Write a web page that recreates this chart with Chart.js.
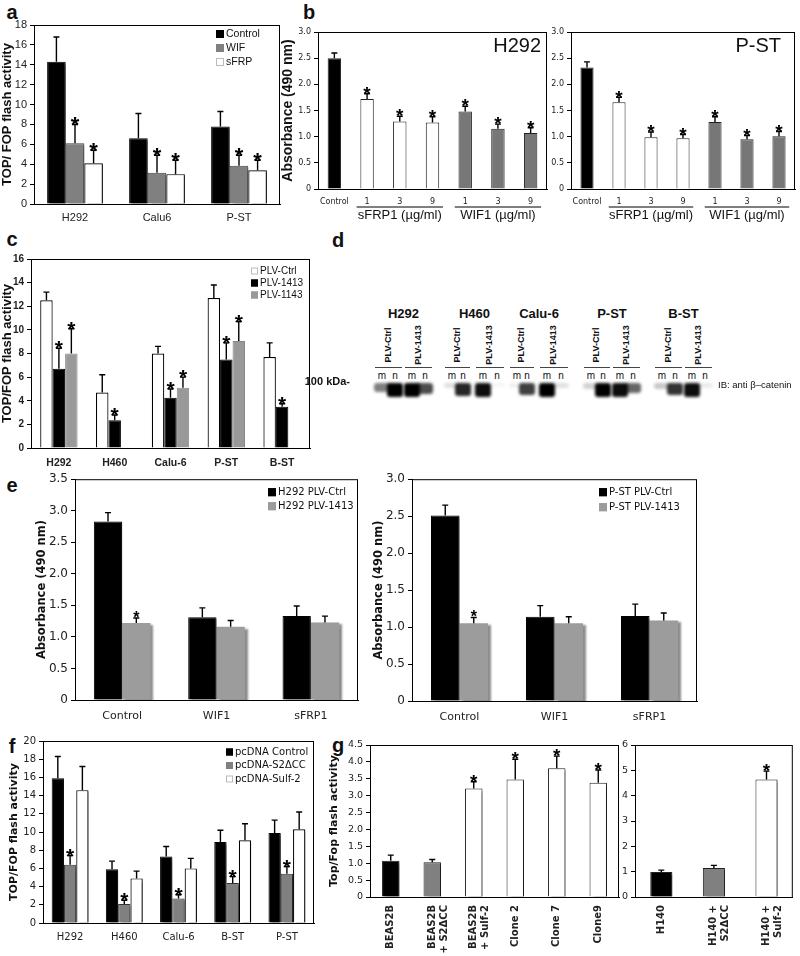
<!DOCTYPE html>
<html>
<head>
<meta charset="utf-8">
<script src="https://cdn.jsdelivr.net/npm/chart.js@4.4.0/dist/chart.umd.min.js"></script>
<style>
  body { margin: 0; background: #fff; }
  #page { position: relative; width: 800px; height: 956px; overflow: hidden; font-family: 'Liberation Sans', Arial, sans-serif; color: #111; }
  .tag { position: absolute; font-weight: bold; font-size: 20px; transform: translate(-50%, -50%); }
  .t { position: absolute; white-space: nowrap; }
  .band { position: absolute; border-radius: 3px; filter: blur(1.4px); }
</style>
</head>
<body>
<div id="page">
  <div class="tag" style="left:12px;top:12px">a</div>
  <div class="tag" style="left:309px;top:12px">b</div>
  <div class="tag" style="left:12px;top:239px">c</div>
  <div class="tag" style="left:338px;top:240px">d</div>
  <div class="tag" style="left:12px;top:485px">e</div>
  <div class="tag" style="left:12px;top:746px">f</div>
  <div class="tag" style="left:338px;top:745px">g</div>
</div>
<script>
// ---- panel a ----
const aLabels = ['H292', 'Calu6', 'P-ST'];
const aControl = [14.3, 6.6, 7.8];
const aControlErr = [2.5, 2.5, 1.5];
const aWif = [6.1, 3.15, 3.85];
const aWifErr = [1.9, 1.75, 1.05];
const aSfrp = [4.1, 3.0, 3.4];
const aSfrpErr = [1.3, 1.4, 1.0];
const aStars = [1, 1, 1];

// ---- panel b ----
const bLabels = ['Control', '1', '3', '9', '1', '3', '9'];
const bGroups = ['sFRP1 (µg/ml)', 'WIF1 (µg/ml)'];
const bH292 = [2.50, 1.72, 1.29, 1.27, 1.48, 1.15, 1.07];
const bH292Err = [0.10, 0.10, 0.10, 0.11, 0.10, 0.09, 0.10];
const bPst = [2.32, 1.66, 0.99, 0.97, 1.28, 0.95, 1.01];
const bPstErr = [0.11, 0.09, 0.10, 0.07, 0.10, 0.07, 0.09];
const bStars = [0, 1, 1, 1, 1, 1, 1];

// ---- panel c ----
const cLabels = ['H292', 'H460', 'Calu-6', 'P-ST', 'B-ST'];
const cCtrl = [12.5, 4.7, 8.0, 12.7, 7.7];
const cCtrlErr = [0.7, 1.5, 0.6, 1.1, 1.2];
const c1413 = [6.7, 2.35, 4.25, 7.5, 3.5];
const c1413Err = [1.75, 0.45, 0.75, 1.4, 0.25];
const c1143 = [8.0, null, 5.1, 9.05, null];
const c1143Err = [2.1, null, 0.9, 1.65, null];
const cStars = [1, 1, 1, 1, 1];

// ---- panel d (blot) ----
const dLines = ['H292', 'H460', 'Calu-6', 'P-ST', 'B-ST'];
const dLanes = [[382, 395, 412, 425], [452, 463, 483, 497], [517, 527, 547, 561], [591, 603, 620, 633], [662, 675, 692, 705]];
const dBands = [[0.5, 1, 1, 0.7], [0.12, 0.85, 0.95, 0.04], [0.06, 0.75, 1, 0.12], [0.18, 1, 0.95, 0.6], [0.22, 0.8, 0.95, 0.08]];

// ---- panel e ----
const eLabels = ['Control', 'WIF1', 'sFRP1'];
const eH292Ctrl = [2.83, 1.31, 1.33];
const eH292CtrlErr = [0.14, 0.15, 0.16];
const eH2921413 = [1.22, 1.16, 1.23];
const eH2921413Err = [0.08, 0.10, 0.10];
const ePstCtrl = [2.51, 1.14, 1.15];
const ePstCtrlErr = [0.14, 0.15, 0.16];
const ePst1413 = [1.05, 1.05, 1.09];
const ePst1413Err = [0.08, 0.09, 0.10];
const eStars = [1, 0, 0];

// ---- panel f ----
const fLabels = ['H292', 'H460', 'Calu-6', 'B-ST', 'P-ST'];
const fControl = [15.9, 5.9, 7.3, 8.9, 9.9];
const fControlErr = [2.4, 0.9, 1.1, 1.3, 1.4];
const fS2 = [6.4, 2.1, 2.7, 4.4, 5.4];
const fS2Err = [1.0, 0.4, 0.4, 0.7, 0.8];
const fSulf = [14.6, 4.9, 6.0, 9.1, 10.3];
const fSulfErr = [2.6, 0.8, 1.1, 1.8, 1.9];
const fStars = [1, 1, 1, 1, 1];

// ---- panel g ----
const gLabels = [['BEAS2B'], ['BEAS2B', '+ S2ΔCC'], ['BEAS2B', '+ Sulf-2'], ['Clone 2'], ['Clone 7'], ['Clone9']];
const gBeas = [1.07, 1.03, 3.21, 3.48, 3.81, 3.38];
const gBeasErr = [0.17, 0.08, 0.20, 0.60, 0.36, 0.38];
const gBeasStars = [0, 0, 1, 1, 1, 1];
const hLabels = [['H140'], ['H140 +', 'S2ΔCC'], ['H140 +', 'Sulf-2']];
const gH140 = [0.99, 1.14, 4.64];
const gH140Err = [0.07, 0.11, 0.33];
const gH140Stars = [0, 0, 1];

const A = 'Liberation Sans';
const V = 'DejaVu Sans';
const page = document.getElementById('page');
Chart.defaults.font.family = A;

const figPlugin = {
  id: 'fig',
  beforeDatasetsDraw(chart, args, o) {
    const ctx = chart.ctx;
    ctx.save();
    if (o.shadow) {
      ctx.shadowColor = 'rgba(0,0,0,0.45)';
      ctx.shadowOffsetX = 3;
      ctx.shadowOffsetY = 2;
      ctx.shadowBlur = 2;
    }
  },
  afterDatasetsDraw(chart, args, o) {
    const ctx = chart.ctx;
    ctx.restore();
    const area = chart.chartArea, ys = chart.scales.y, xs = chart.scales.x;
    const px = v => area.left + (v - o.box.l);
    const py = v => area.top + (v - o.box.t);
    ctx.save();
    ctx.strokeStyle = '#000';
    ctx.lineWidth = 1;
    ctx.strokeRect(area.left + 0.5, area.top + 0.5, area.right - area.left - 1, area.bottom - area.top);

    chart.data.datasets.forEach((ds, i) => {
      const meta = chart.getDatasetMeta(i);
      meta.data.forEach((bar, j) => {
        const v = ds.data[j];
        if (v == null) return;
        let top = bar.y;
        if (ds.err && ds.err[j]) {
          top = ys.getPixelForValue(v + ds.err[j]);
          ctx.lineWidth = 1.4;
          ctx.beginPath();
          ctx.moveTo(bar.x, bar.y);
          ctx.lineTo(bar.x, top);
          ctx.moveTo(bar.x - 3, top);
          ctx.lineTo(bar.x + 3, top);
          ctx.stroke();
        }
        if (ds.stars && ds.stars[j]) {
          const s = o.star || 20;
          ctx.fillStyle = '#000';
          ctx.font = `bold ${s}px ${A}`;
          ctx.textAlign = 'center';
          ctx.textBaseline = 'alphabetic';
          ctx.fillText('*', bar.x, top - 2 + s * 0.43);
        }
      });
    });

    if (o.legend) {
      const L = o.legend;
      ctx.font = `${L.size}px ${L.family}`;
      ctx.textBaseline = 'middle';
      ctx.textAlign = 'left';
      chart.data.datasets.forEach((ds, i) => {
        const x = px(L.x), y = py(L.y + i * L.dy);
        ctx.fillStyle = ds.backgroundColor;
        ctx.fillRect(x, y - L.box / 2, L.box, L.box);
        ctx.strokeStyle = ds.backgroundColor === '#fff' ? '#bbb' : ds.backgroundColor;
        ctx.lineWidth = 1;
        ctx.strokeRect(x + 0.5, y - L.box / 2 + 0.5, L.box - 1, L.box - 1);
        ctx.fillStyle = '#111';
        ctx.fillText(ds.label, x + L.box + 2, y);
      });
    }

    if (o.title) {
      ctx.fillStyle = '#111';
      ctx.font = o.title.font;
      ctx.textAlign = 'right';
      ctx.textBaseline = 'middle';
      ctx.fillText(o.title.text, px(o.title.x), py(o.title.y));
    }

    if (o.groups) {
      const half = (xs.getPixelForValue(1) - xs.getPixelForValue(0)) * 0.32;
      o.groups.forEach(g => {
        const x0 = xs.getPixelForValue(g.from) - half;
        const x1 = xs.getPixelForValue(g.to) + half;
        const ly = area.bottom + (o.lineY - o.box.b);
        ctx.strokeStyle = '#000';
        ctx.lineWidth = 1.2;
        ctx.beginPath();
        ctx.moveTo(x0, ly);
        ctx.lineTo(x1, ly);
        ctx.stroke();
        ctx.fillStyle = '#111';
        ctx.font = `13px ${A}`;
        ctx.textAlign = 'center';
        ctx.textBaseline = 'middle';
        ctx.fillText(g.text, (x0 + x1) / 2, area.bottom + (o.textY - o.box.b));
      });
    }
    ctx.restore();
  }
};

function barChart(box, o) {
  const padTop = 10;
  const wrap = document.createElement('div');
  wrap.style.cssText = `position:absolute;left:${box.l - o.yW}px;top:${box.t - padTop}px;` +
    `width:${box.r - box.l + o.yW + 3}px;height:${box.b - box.t + padTop + o.xH}px;`;
  const cv = document.createElement('canvas');
  wrap.appendChild(cv);
  page.appendChild(wrap);
  return new Chart(cv, {
    type: 'bar',
    data: { labels: o.labels, datasets: o.datasets },
    options: {
      responsive: true,
      maintainAspectRatio: false,
      animation: false,
      layout: { padding: { top: padTop, right: 3, left: 0, bottom: 0 } },
      datasets: { bar: { categoryPercentage: o.cat, barPercentage: o.bar } },
      plugins: {
        legend: { display: false },
        tooltip: { enabled: false },
        fig: { box, shadow: o.shadow, star: o.star, legend: o.legend, title: o.title,
               groups: o.groups, lineY: o.lineY, textY: o.textY }
      },
      scales: {
        x: {
          offset: true,
          grid: { display: false, drawTicks: false },
          border: { display: true, color: '#000' },
          ticks: { font: o.xFont, color: '#222', padding: o.xPad, autoSkip: false,
                   maxRotation: o.rot || 0, minRotation: o.rot || 0 },
          afterFit: s => { s.height = o.xH; }
        },
        y: {
          min: 0,
          max: o.max,
          ticks: { stepSize: o.step, font: o.yFont, color: '#222', padding: 3 },
          grid: { drawOnChartArea: false, tickLength: 4, color: '#000' },
          border: { color: '#000' },
          title: o.yTitle ? { display: true, text: o.yTitle, font: o.yTitleFont, color: '#111', padding: 0 } : { display: false },
          afterFit: s => { s.width = o.yW; }
        }
      }
    },
    plugins: [figPlugin]
  });
}

const blk = { backgroundColor: '#000', borderColor: '#000', borderWidth: 1 };
const wht = { backgroundColor: '#fff', borderColor: '#000', borderWidth: 1.2 };

// a
barChart({ l: 34, t: 25, r: 280, b: 204 }, {
  labels: aLabels, yW: 34, xH: 24, max: 18, step: 2, cat: 0.68, bar: 1, shadow: true, star: 22,
  yFont: { family: A, size: 11 }, xFont: { family: A, size: 11 }, xPad: 7,
  yTitle: 'TOP/ FOP flash activity', yTitleFont: { family: A, size: 13, weight: 'bold' },
  legend: { x: 216, y: 34, dy: 14, box: 8, size: 10.5, family: A },
  datasets: [
    { label: 'Control', data: aControl, err: aControlErr, ...blk },
    { label: 'WIF', data: aWif, err: aWifErr, stars: aStars, backgroundColor: '#808080', borderColor: '#444', borderWidth: 1 },
    { label: 'sFRP', data: aSfrp, err: aSfrpErr, stars: aStars, ...wht }
  ]
});

// b
const bColors = ['#000', '#fff', '#fff', '#fff', '#777', '#777', '#777'];
const bCommon = {
  labels: bLabels, xH: 34, max: 3, step: 0.5, cat: 1, bar: 0.41, shadow: false, star: 19,
  yFont: { family: V, size: 8 }, xFont: { family: V, size: 8 }, xPad: 8, lineY: 207, textY: 215,
  groups: [{ from: 1, to: 3, text: bGroups[0] }, { from: 4, to: 6, text: bGroups[1] }]
};
barChart({ l: 318, t: 32, r: 547, b: 189 }, {
  ...bCommon, yW: 38,
  yTitle: 'Absorbance (490 nm)', yTitleFont: { family: A, size: 14, weight: 'bold' },
  title: { text: 'H292', x: 541, y: 46, font: `20px ${A}` },
  datasets: [{ label: 'H292', data: bH292, err: bH292Err, stars: bStars, backgroundColor: bColors, borderColor: '#222', borderWidth: 1 }]
});
barChart({ l: 571, t: 32, r: 795, b: 189 }, {
  ...bCommon, yW: 21,
  title: { text: 'P-ST', x: 781, y: 46, font: `20px ${A}` },
  datasets: [{ label: 'P-ST', data: bPst, err: bPstErr, stars: bStars, backgroundColor: bColors, borderColor: '#222', borderWidth: 1 }]
});

// c
barChart({ l: 31, t: 259, r: 310, b: 448 }, {
  labels: cLabels, yW: 31, xH: 26, max: 16, step: 2, cat: 0.67, bar: 1, shadow: false, star: 21,
  yFont: { family: A, size: 10, weight: 'bold' }, xFont: { family: A, size: 10.5, weight: 'bold' }, xPad: 9,
  yTitle: 'TOP/FOP flash activity', yTitleFont: { family: A, size: 13, weight: 'bold' },
  legend: { x: 251, y: 271, dy: 12, box: 7, size: 10, family: A },
  datasets: [
    { label: 'PLV-Ctrl', data: cCtrl, err: cCtrlErr, ...wht },
    { label: 'PLV-1413', data: c1413, err: c1413Err, stars: cStars, ...blk },
    { label: 'PLV-1143', data: c1143, err: c1143Err, stars: cStars, backgroundColor: '#999', borderColor: '#888', borderWidth: 1 }
  ]
});

// e
const eCommon = {
  labels: eLabels, xH: 26, step: 0.5, cat: 0.6, bar: 1, shadow: true, star: 16, yW: 40,
  yFont: { family: V, size: 12 }, xFont: { family: V, size: 11 }, xPad: 10,
  yTitle: 'Absorbance (490 nm)', yTitleFont: { family: V, size: 11.5, weight: 'bold' }
};
barChart({ l: 75, t: 479, r: 358, b: 700 }, {
  ...eCommon, max: 3.5,
  legend: { x: 268, y: 492, dy: 14, box: 8, size: 10, family: V },
  datasets: [
    { label: 'H292 PLV-Ctrl', data: eH292Ctrl, err: eH292CtrlErr, ...blk },
    { label: 'H292 PLV-1413', data: eH2921413, err: eH2921413Err, stars: eStars, backgroundColor: '#9c9c9c', borderColor: '#9c9c9c', borderWidth: 0 }
  ]
});
barChart({ l: 412, t: 479, r: 697, b: 701 }, {
  ...eCommon, max: 3,
  legend: { x: 599, y: 492, dy: 15, box: 8, size: 10, family: V },
  datasets: [
    { label: 'P-ST PLV-Ctrl', data: ePstCtrl, err: ePstCtrlErr, ...blk },
    { label: 'P-ST PLV-1413', data: ePst1413, err: ePst1413Err, stars: eStars, backgroundColor: '#9c9c9c', borderColor: '#9c9c9c', borderWidth: 0 }
  ]
});

// f
barChart({ l: 43, t: 741, r: 314, b: 923 }, {
  labels: fLabels, yW: 35, xH: 26, max: 20, step: 2, cat: 0.68, bar: 1, shadow: true, star: 21,
  yFont: { family: V, size: 10 }, xFont: { family: V, size: 10 }, xPad: 8,
  yTitle: 'TOP/FOP flash activity', yTitleFont: { family: V, size: 11, weight: 'bold' },
  legend: { x: 226, y: 752, dy: 13.5, box: 7, size: 10, family: V },
  datasets: [
    { label: 'pcDNA Control', data: fControl, err: fControlErr, ...blk },
    { label: 'pcDNA-S2ΔCC', data: fS2, err: fS2Err, stars: fStars, backgroundColor: '#808080', borderColor: '#333', borderWidth: 1 },
    { label: 'pcDNA-Sulf-2', data: fSulf, err: fSulfErr, ...wht }
  ]
});

// g
const gCommon = {
  xH: 58, cat: 1, bar: 0.42, shadow: true, star: 19, rot: 90,
  yFont: { family: V, size: 9.5 }, xFont: { family: V, size: 10, weight: 'bold' }, xPad: 8
};
barChart({ l: 370, t: 745, r: 619, b: 897 }, {
  ...gCommon, labels: gLabels, yW: 42, max: 4.5, step: 0.5,
  yTitle: 'Top/Fop flash activity', yTitleFont: { family: V, size: 11, weight: 'bold' },
  datasets: [{ label: 'BEAS2B', data: gBeas, err: gBeasErr, stars: gBeasStars,
    backgroundColor: ['#000', '#808080', '#fff', '#fff', '#fff', '#fff'], borderColor: '#222', borderWidth: 1 }]
});
barChart({ l: 635, t: 745, r: 796, b: 897 }, {
  ...gCommon, labels: hLabels, yW: 20, max: 6, step: 1,
  datasets: [{ label: 'H140', data: gH140, err: gH140Err, stars: gH140Stars,
    backgroundColor: ['#000', '#808080', '#fff'], borderColor: '#222', borderWidth: 1 }]
});

// d: western blot drawn with plain elements
function addText(txt, x, y, css) {
  const el = document.createElement('div');
  el.className = 't';
  el.textContent = txt;
  el.style.cssText += `left:${x}px;top:${y}px;` + css;
  page.appendChild(el);
  return el;
}
dLines.forEach((name, g) => {
  const lanes = dLanes[g];
  const mid = (lanes[0] + lanes[3]) / 2;
  addText(name, mid, 313, `font-weight:bold;font-size:13px;transform:translate(-50%,-50%);`);
  [['PLV-Ctrl', 0], ['PLV-1413', 2]].forEach(([lab, k]) => {
    const m = lanes[k], n = lanes[k + 1];
    addText(lab, (m + n) / 2 - 1, 345, `font-weight:bold;font-size:9px;transform:translate(-50%,-50%) rotate(-90deg);`);
    const ln = document.createElement('div');
    ln.style.cssText = `position:absolute;left:${m - 7}px;top:367px;width:${n - m + 14}px;height:1px;background:#444;`;
    page.appendChild(ln);
    addText('m', m, 375, 'font-size:10px;transform:translate(-50%,-50%);');
    addText('n', n, 375, 'font-size:10px;transform:translate(-50%,-50%);');
  });
  lanes.forEach((x, k) => {
    const a = dBands[g][k];
    const b = document.createElement('div');
    b.className = 'band';
    const h = 4 + 10 * a;
    b.style.cssText += `left:${x - 8}px;top:${383}px;width:16px;height:${h}px;background:rgba(0,0,0,${a});`;
    page.appendChild(b);
  });
});
addText('100 kDa-', 350, 381, 'font-weight:bold;font-size:11px;transform:translate(-100%,-50%);');
addText('IB: anti β–catenin', 718, 384, 'font-size:9.5px;transform:translate(0,-50%);');
</script>
</body>
</html>
